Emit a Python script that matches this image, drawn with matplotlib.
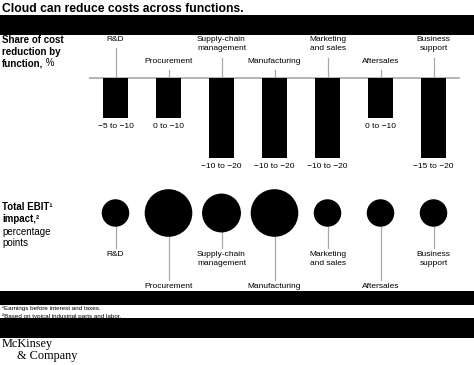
import numpy as np
import matplotlib
matplotlib.use("Agg")
import matplotlib.pyplot as plt
from matplotlib.patches import Rectangle

plt.rcParams["font.family"] = ["Liberation Sans", "DejaVu Sans"]

# data
functions = ["R&D", "Procurement", "Supply-chain\nmanagement", "Manufacturing",
             "Marketing\nand sales", "Aftersales", "Business\nsupport"]
cost_low = [-5, 0, -10, -10, -10, 0, -15]
cost_high = [-10, -10, -20, -20, -20, -10, -20]
ebit_impact = [1, 3, 2, 3, 1, 1, 1]  # relative bubble size
label_high = [True, False, True, False, True, False, True]

W, H = 474, 365
fig = plt.figure(figsize=(W / 100, H / 100), dpi=100)
fig.patch.set_facecolor("white")


def box(x0, top, w, h):
    return [x0 / W, (H - top - h) / H, w / W, h / H]


def fmt(v):
    return "0" if v == 0 else "\u2212" + str(abs(v))


x = np.arange(len(functions))
GRAY = "#a8a8a8"
FS = 6
LS = 1.4

# ---- cost reduction bars
ax = fig.add_axes(box(89, 36, 371, 140))
ax.set_xlim(-0.5, 6.5)
ax.set_ylim(-24.5, 10.5)
ax.axis("off")
ax.axhline(0, color=GRAY, lw=1.2, zorder=1)
ax.bar(x, cost_high, width=0.47, color="black", zorder=2)
for i, name in enumerate(functions):
    n = name.count("\n") + 1
    top = 10.6 if label_high[i] else 5.0
    ax.text(x[i], top, name, ha="center", va="top", fontsize=FS,
            linespacing=LS, clip_on=False)
    ax.plot([x[i], x[i]], [top - n * 2.5 - 0.5, 0], color=GRAY, lw=0.9, zorder=1)
    ax.text(x[i], cost_high[i] - 1.2, f"{fmt(cost_low[i])} to {fmt(cost_high[i])}",
            ha="center", va="top", fontsize=FS)

# ---- EBIT bubbles
bx = fig.add_axes(box(89, 180, 371, 120))
bx.set_xlim(-0.5, 6.5)
bx.set_ylim(-87, 33)
bx.axis("off")
sizes = np.array(ebit_impact) * 392
bx.scatter(x, np.zeros(len(x)), s=sizes, color="black", zorder=3, linewidths=0)
radius = np.sqrt(sizes) / 0.72 / 2
for i, name in enumerate(functions):
    top = -38 if label_high[i] else -70
    bx.plot([x[i], x[i]], [-radius[i], top + 3], color=GRAY, lw=0.9, zorder=1)
    bx.text(x[i], top, name, ha="center", va="top", fontsize=FS,
            linespacing=LS, clip_on=False)

# ---- overlay: titles, notes, black bars
ov = fig.add_axes([0, 0, 1, 1], zorder=10)
ov.set_xlim(0, W)
ov.set_ylim(H, 0)
ov.axis("off")
ov.patch.set_alpha(0)

ov.text(2, 9, "Cloud can reduce costs across functions.", fontsize=8.7,
        fontweight="bold", va="center", ha="left")

ov.text(2, 40, "Share of cost", fontsize=7, fontweight="bold", va="center")
ov.text(2, 52, "reduction by", fontsize=7, fontweight="bold", va="center")
t = ov.text(2, 63.5, "function,", fontsize=7, fontweight="bold", va="center")
ov.annotate(" %", xy=(1, 0), xycoords=t, va="bottom", ha="left", fontsize=7)

ov.text(2, 207, "Total EBIT\u00b9", fontsize=7, fontweight="bold", va="center")
ov.text(2, 219, "impact,\u00b2", fontsize=7, fontweight="bold", va="center")
ov.text(2, 232, "percentage", fontsize=7, va="center")
ov.text(2, 243, "points", fontsize=7, va="center")

ov.text(2, 308, "\u00b9Earnings before interest and taxes.", fontsize=4.5, va="center")
ov.text(2, 316, "\u00b2Based on typical industrial parts and labor.", fontsize=4.5,
        va="center")

ov.text(2, 344, "McKinsey", fontsize=8.8, family="Liberation Serif", va="center")
ov.text(17, 356, "& Company", fontsize=8.8, family="Liberation Serif", va="center")

for top, h in [(15, 20), (291, 14), (318, 20)]:
    ov.add_patch(Rectangle((0, top), W, h, color="black", lw=0))

fig.savefig("out.png", dpi=100)
